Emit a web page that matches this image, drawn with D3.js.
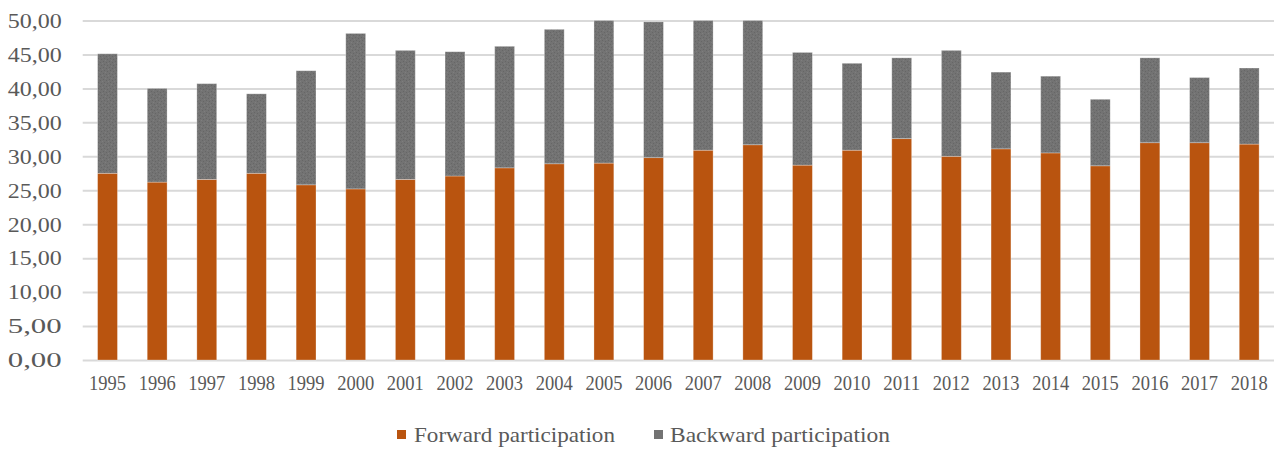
<!DOCTYPE html>
<html>
<head>
<meta charset="utf-8">
<script src="https://cdn.jsdelivr.net/npm/d3@7"></script>
<style>
  html, body { margin: 0; padding: 0; background: #fff; }
  svg { display: block; }
  text { font-family: "Liberation Serif", "Times New Roman", serif; fill: #595959; }
</style>
</head>
<body>
<svg id="chart" width="1283" height="449"></svg>
<script>
// Years on the horizontal axis
const years = ["1995","1996","1997","1998","1999","2000","2001","2002","2003","2004","2005","2006",
               "2007","2008","2009","2010","2011","2012","2013","2014","2015","2016","2017","2018"];

// Forward participation (lower segment)
const forward = [27.5, 26.2, 26.6, 27.5, 25.8, 25.2, 26.6, 27.1, 28.3, 28.9, 29.0, 29.8,
                 30.9, 31.7, 28.7, 30.9, 32.6, 30.0, 31.1, 30.5, 28.6, 32.0, 32.0, 31.8];

// Backward participation (upper segment)
const backward = [17.6, 13.8, 14.1, 11.7, 16.8, 22.9, 19.0, 18.3, 17.9, 19.8, 21.2, 20.0,
                  19.3, 18.5, 16.6, 12.8, 11.9, 15.6, 11.3, 11.3, 9.8, 12.5, 9.6, 11.2];

// Value axis ticks
const yTicks = [0, 5, 10, 15, 20, 25, 30, 35, 40, 45, 50];

const seriesNames = ["Forward participation", "Backward participation"];
const colors = ["#B9540F", "#737373"];

const svg = d3.select("#chart");
const plot = { left: 82.7, right: 1274, top: 20.5, bottom: 360 };

const rows = years.map((yr, i) => ({ year: yr, fwd: forward[i], bwd: backward[i] }));
const stack = d3.stack().keys(["fwd", "bwd"])(rows);

const x = d3.scaleBand().domain(years).range([plot.left, plot.right]).paddingInner(0.6).paddingOuter(0.3);
const y = d3.scaleLinear().domain([0, 50]).range([plot.bottom, plot.top]).clamp(true);

// speckled fill for the backward segments
const defs = svg.append("defs");
const pat = defs.append("pattern").attr("id", "speckle").attr("patternUnits", "userSpaceOnUse")
  .attr("width", 6).attr("height", 6);
pat.append("rect").attr("width", 6).attr("height", 6).attr("fill", colors[1]);
[[1,1],[4,2],[2,4],[5,5]].forEach(([px, py]) =>
  pat.append("rect").attr("x", px).attr("y", py).attr("width", 1).attr("height", 1).attr("fill", "#666"));
[[3,0],[0,3]].forEach(([px, py]) =>
  pat.append("rect").attr("x", px).attr("y", py).attr("width", 1).attr("height", 1).attr("fill", "#7e7e7e"));

// Gridlines + value labels
const fmt = d3.formatLocale({ decimal: ",", thousands: ".", grouping: [3], currency: ["", ""] }).format(".2f");
const yAxis = svg.append("g").attr("transform", `translate(${plot.left},0)`)
  .call(d3.axisLeft(y).tickValues(yTicks).tickFormat(fmt).tickSize(-(plot.right - plot.left)).tickPadding(21));
yAxis.select(".domain").remove();
yAxis.selectAll(".tick line").attr("stroke", "#d9d9d9").attr("stroke-width", 2);
yAxis.selectAll(".tick text")
  .attr("font-size", 20).attr("fill", "#595959")
  .attr("textLength", 54).attr("lengthAdjust", "spacingAndGlyphs")
  .attr("dy", "0.34em");

// Stacked bars
const layers = svg.append("g").selectAll("g").data(stack).join("g")
  .attr("fill", (d, i) => i === 0 ? colors[0] : "url(#speckle)");
layers.selectAll("rect").data(d => d).join("rect")
  .attr("x", d => x(d.data.year))
  .attr("width", x.bandwidth())
  .attr("y", d => y(d[1]))
  .attr("height", d => y(d[0]) - y(d[1]))
  .attr("stroke", "#ffffff").attr("stroke-opacity", 0.35).attr("stroke-width", 0.8);

// Category labels
const xAxis = svg.append("g").attr("transform", `translate(0,${plot.bottom})`)
  .call(d3.axisBottom(x).tickSize(0).tickPadding(15));
xAxis.select(".domain").remove();
xAxis.selectAll(".tick text")
  .attr("font-size", 21).attr("fill", "#595959")
  .attr("textLength", 37).attr("lengthAdjust", "spacingAndGlyphs");

// Legend
const legendItems = [
  { name: seriesNames[0], fill: colors[0], sx: 397, tx: 414, tw: 201 },
  { name: seriesNames[1], fill: colors[1], sx: 654, tx: 670, tw: 220 }
];
const legend = svg.append("g");
legend.selectAll("rect").data(legendItems).join("rect")
  .attr("x", d => d.sx).attr("y", 430).attr("width", 9).attr("height", 9).attr("fill", d => d.fill);
legend.selectAll("text").data(legendItems).join("text")
  .attr("x", d => d.tx).attr("y", 442)
  .attr("font-size", 22)
  .attr("textLength", d => d.tw).attr("lengthAdjust", "spacingAndGlyphs")
  .text(d => d.name);
</script>
</body>
</html>
